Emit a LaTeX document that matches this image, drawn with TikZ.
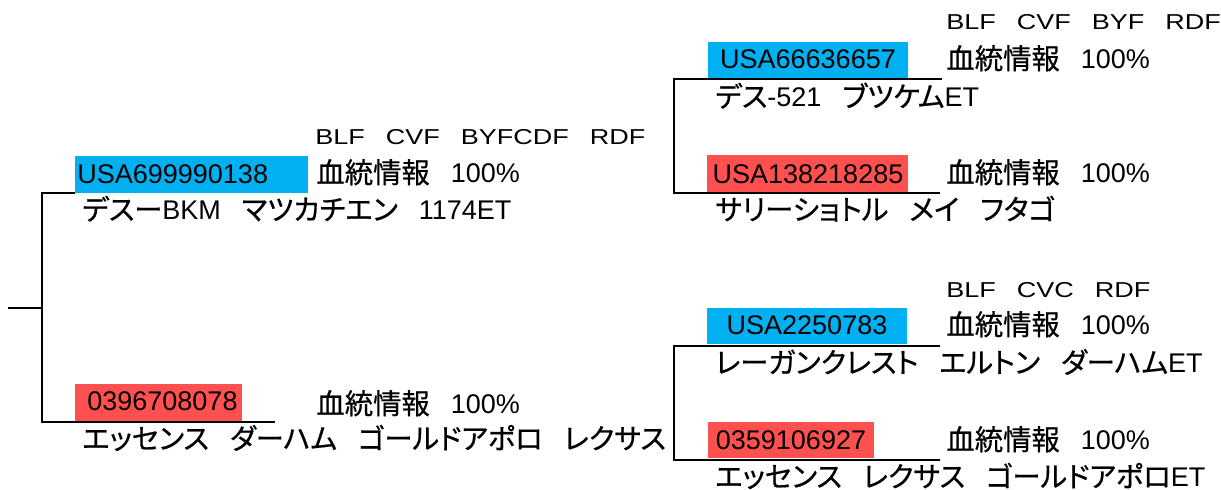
\documentclass[tikz,border=0pt]{standalone}
\usepackage{fontspec}
\usepackage{graphicx}
\setmainfont{Liberation Sans}
\newfontfamily\jpfont[Scale=1.05,RawFeature=+palt,FakeBold=0.6]{Noto Sans CJK JP}
\newcommand\J[1]{{\jpfont #1}}
\newcommand\gp{\hspace{10.5pt}}
\newcommand\blf[1]{\scalebox{1}[0.8]{#1}}
\definecolor{bluefill}{RGB}{0,176,240}
\definecolor{redfill}{RGB}{255,80,80}
\begin{document}
\begin{tikzpicture}[x=0.5pt,y=-0.5pt,
  txt/.style={anchor=base west,inner sep=0pt,font=\fontsize{13.5pt}{16pt}\selectfont},
  idtxt/.style={anchor=base,inner sep=0pt,font=\fontsize{13.5pt}{16pt}\selectfont},
  conn/.style={draw=black,line width=1.15pt},
  bbox/.style={fill=bluefill,draw=none},
  rbox/.style={fill=redfill,draw=none}]
\useasboundingbox[fill=white] (0,0) rectangle (1221,490);
% connectors
\coordinate (r0) at (8.3,307.7);
\coordinate (r1) at (42,307.7);
\coordinate (l1) at (75,192.7);
\coordinate (l2) at (42,192.7);
\coordinate (l3) at (42,421.7);
\coordinate (l4) at (275,421.7);
\coordinate (a1) at (941.7,79.3);
\coordinate (a2) at (674,79.3);
\coordinate (a3) at (674,192.7);
\coordinate (a4) at (940,192.7);
\coordinate (c1) at (940,345.7);
\coordinate (c2) at (674,345.7);
\coordinate (c3) at (674,460);
\coordinate (c4) at (940,460);
\draw[conn] (r0) -- (r1);
\draw[conn] (l1) -- (l2) -- (l3) -- (l4);
\draw[conn] (a1) -- (a2) -- (a3) -- (a4);
\draw[conn] (c1) -- (c2) -- (c3) -- (c4);
% boxes
\path[bbox] (75,156) rectangle (308.3,193) coordinate (b1);
\path[rbox] (75,384) rectangle (241.7,420.7) coordinate (b2);
\path[bbox] (707.7,41.7) rectangle (908.3,78.3) coordinate (b3);
\path[rbox] (707.3,155) rectangle (908.3,191.7) coordinate (b4);
\path[bbox] (706.7,308.3) rectangle (907.3,344.3) coordinate (b5);
\path[rbox] (707.7,422.3) rectangle (874,458.3) coordinate (b6);
% left top
\node[txt] (t1) at (77,183.3) {USA699990138};
\node[txt] (f1) at (315,145) {\blf{BLF\gp CVF\gp BYFCDF\gp RDF}};
\node[txt] (p1) at (316,183) {\J{血統情報}\gp 100\%};
\node[txt] (n1) at (82,220) {\J{デスー}BKM\gp\J{マツカチエン}\gp 1174ET};
% left bottom
\node[txt] (t2) at (87,410.7) {0396708078};
\node[txt] (p2) at (316,414) {\J{血統情報}\gp 100\%};
\node[txt] (n2) at (82,449) {\J{エッセンス}\gp\J{ダーハム}\gp\J{ゴールドアポロ}\gp\J{レクサス}};
% right top
\node[txt] (f2) at (946,30) {\blf{BLF\gp CVF\gp BYF\gp RDF}};
\node[idtxt] (t3) at (808,69) {USA66636657};
\node[txt] (p3) at (946,69) {\J{血統情報}\gp 100\%};
\node[txt] (n3) at (715,107) {\J{デス}-521\gp\J{ブツケム}ET};
\node[idtxt] (t4) at (808,183.3) {USA138218285};
\node[txt] (p4) at (946,183) {\J{血統情報}\gp 100\%};
\node[txt] (n4) at (715,220) {\J{サリーショトル}\gp\J{メイ}\gp\J{フタゴ}};
% right bottom
\node[txt] (f3) at (946,298) {\blf{BLF\gp CVC\gp RDF}};
\node[idtxt] (t5) at (807,335) {USA2250783};
\node[txt] (p5) at (946,335) {\J{血統情報}\gp 100\%};
\node[txt] (n5) at (715,373) {\J{レーガンクレスト}\gp\J{エルトン}\gp\J{ダーハム}ET};
\node[idtxt] (t6) at (791,450) {0359106927};
\node[txt] (p6) at (946,450) {\J{血統情報}\gp 100\%};
\node[txt] (n6) at (715,487) {\J{エッセンス}\gp\J{レクサス}\gp\J{ゴールドアポロ}ET};
\end{tikzpicture}
\end{document}
